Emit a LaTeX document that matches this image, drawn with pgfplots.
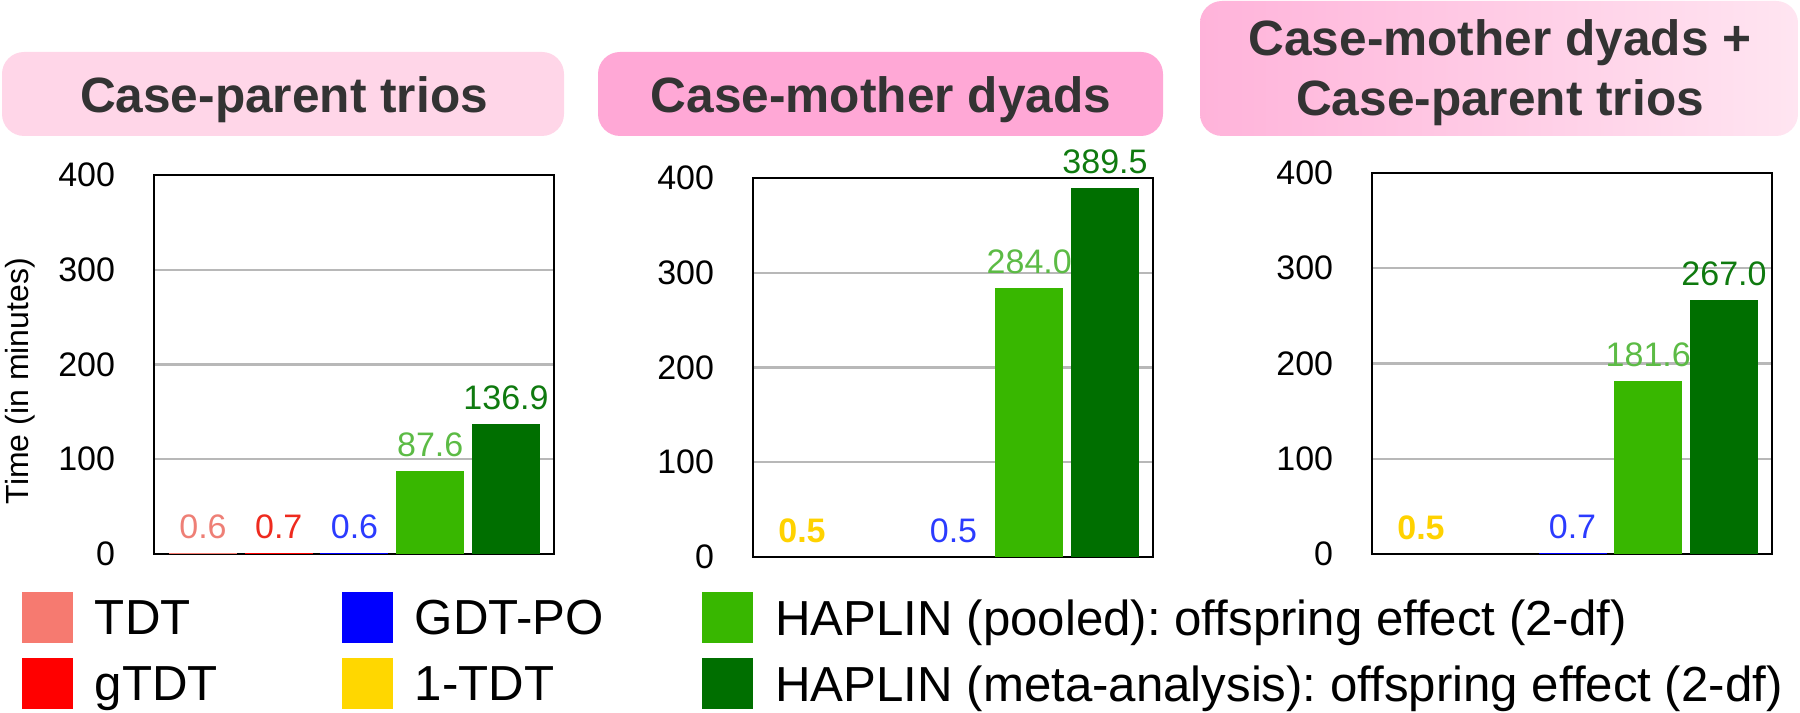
\documentclass[border=0pt]{standalone}
\usepackage{fontspec}
\setmainfont{Liberation Sans}
\usepackage{pgfplots}
\pgfplotsset{compat=1.18}
\frenchspacing

\definecolor{cTDT}{HTML}{F67A70}
\definecolor{lTDT}{HTML}{EE7F76}
\definecolor{cgTDT}{HTML}{FF0000}
\definecolor{lgTDT}{HTML}{EE2A1E}
\definecolor{cGDT}{HTML}{0000FF}
\definecolor{lGDT}{HTML}{2B3BFF}
\definecolor{cOne}{HTML}{FFD700}
\definecolor{lOne}{HTML}{FFD200}
\definecolor{cPool}{HTML}{38B700}
\definecolor{lPool}{HTML}{5CBB45}
\definecolor{cMeta}{HTML}{006F00}
\definecolor{lMeta}{HTML}{0F7A0F}
\definecolor{boxA}{HTML}{FFD6E8}
\definecolor{boxB}{HTML}{FFA8D6}
\definecolor{boxCl}{HTML}{FFB3DA}
\definecolor{boxCr}{HTML}{FFE5F1}
\definecolor{ttl}{HTML}{333333}

\pgfplotsset{
  panel/.style={
    scale only axis, width=100pt, anchor=south west,
    ymin=0, ymax=400, ytick={0,100,200,300,400},
    xmin=-0.647, xmax=4.634, xtick=\empty,
    bar width=17pt,
    ymajorgrids, grid style={draw=black!28, line width=0.55pt},
    axis line style={line width=0.65pt},
    major tick length=0pt,
    yticklabel style={font=\fontsize{8.5}{10}\selectfont, xshift=-6.2pt},
    /pgf/number format/assume math mode=true,
    nodes near coords={\pgfmathprintnumber[fixed,fixed zerofill,precision=1]{\pgfplotspointmeta}},
    every node near coord/.append style={font=\fontsize{8.5}{10}\selectfont, anchor=south},
  },
  mybar/.style 2 args={ybar, bar shift=0pt, fill=#1, draw=none, forget plot,
    every node near coord/.append style={text=#2}},
}

\begin{document}
\begin{tikzpicture}
\path[use as bounding box] (0,0) rectangle (450pt,178.25pt);

% panel headers
\fill[boxA, rounded corners=5.5pt] (0.5pt,144.25pt) rectangle (141pt,165.25pt);
\fill[boxB, rounded corners=5.5pt] (149.5pt,144.25pt) rectangle (290.75pt,165.25pt);
\shade[left color=boxCl, right color=boxCr, rounded corners=5.5pt] (300pt,144.25pt) rectangle (449.5pt,178pt);
\begin{scope}[every node/.style={anchor=base, text=ttl, font=\fontsize{12.4}{14}\selectfont\bfseries, inner sep=0pt}]
\node at (71pt,150pt) {Case-parent trios};
\node at (220.25pt,150pt) {Case-mother dyads};
\node at (375pt,164.25pt) {Case-mother dyads +};
\node at (375pt,149.25pt) {Case-parent trios};
\end{scope}

% case-parent trios
\begin{axis}[panel, at={(38.5pt,39.75pt)}, height=94.75pt,
  ylabel={Time (in minutes)},
  every axis y label/.style={at={(axis description cs:-0.335,0.456)}, rotate=90, anchor=center, font=\fontsize{8}{10}\selectfont},
  legend image code/.code={\fill[#1] (0pt,-6.4pt) rectangle (12.75pt,6.4pt);},
  legend columns=3, legend cell align=left,
  legend style={at={(axis description cs:-0.33,-0.1003)}, anchor=north west,
    draw=none, fill=none, inner sep=0pt, outer sep=0pt,
    font=\fontsize{12.3}{14}\selectfont,
    nodes={inner sep=0pt, text depth=0pt},
    row sep=3.7pt,
    /tikz/every odd column/.append style={column sep=5.5pt},
    /tikz/column 2/.append style={column sep=31pt},
    /tikz/column 4/.append style={column sep=24.7pt}},
]
\addplot[mybar={cTDT}{lTDT}] coordinates {(0,0.6)};
\addplot[mybar={cgTDT}{lgTDT}] coordinates {(1,0.7)};
\addplot[mybar={cGDT}{lGDT}] coordinates {(2,0.6)};
\addplot[mybar={cPool}{lPool}] coordinates {(3,87.6)};
\addplot[mybar={cMeta}{lMeta}] coordinates {(4,136.9)};
\addlegendimage{fill=cTDT, draw=none}\addlegendentry{TDT}
\addlegendimage{fill=cGDT, draw=none}\addlegendentry{GDT-PO}
\addlegendimage{fill=cPool, draw=none}\addlegendentry{HAPLIN (pooled): offspring effect (2-df)}
\addlegendimage{fill=cgTDT, draw=none}\addlegendentry{gTDT}
\addlegendimage{fill=cOne, draw=none}\addlegendentry{1-TDT}
\addlegendimage{fill=cMeta, draw=none}\addlegendentry{HAPLIN (meta-analysis): offspring effect (2-df)}
\end{axis}

% case-mother dyads
\begin{axis}[panel, at={(188.25pt,39pt)}, height=94.75pt]
\addplot[mybar={cOne}{lOne}, every node near coord/.append style={font=\fontsize{8.5}{10}\selectfont\bfseries}] coordinates {(0,0.5)};
\addplot[mybar={cGDT}{lGDT}] coordinates {(2,0.5)};
\addplot[mybar={cPool}{lPool}] coordinates {(3,284.0)};
\addplot[mybar={cMeta}{lMeta}] coordinates {(4,389.5)};
\end{axis}

% case-mother dyads + case-parent trios
\begin{axis}[panel, at={(343pt,39.75pt)}, height=95.25pt]
\addplot[mybar={cOne}{lOne}, every node near coord/.append style={font=\fontsize{8.5}{10}\selectfont\bfseries}] coordinates {(0,0.5)};
\addplot[mybar={cGDT}{lGDT}] coordinates {(2,0.7)};
\addplot[mybar={cPool}{lPool}] coordinates {(3,181.6)};
\addplot[mybar={cMeta}{lMeta}] coordinates {(4,267.0)};
\end{axis}
\end{tikzpicture}
\end{document}
